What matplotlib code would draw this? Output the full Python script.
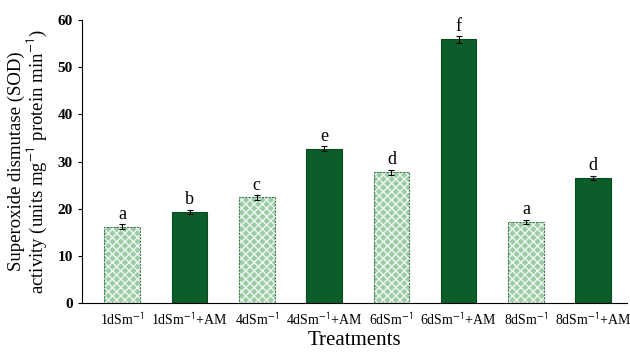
import matplotlib
matplotlib.use("Agg")
import matplotlib.pyplot as plt
import numpy as np

categories = ["1dSm$^{\\mathsf{-1}}$", "1dSm$^{\\mathsf{-1}}$+AM", "4dSm$^{\\mathsf{-1}}$", "4dSm$^{\\mathsf{-1}}$+AM",
              "6dSm$^{\\mathsf{-1}}$", "6dSm$^{\\mathsf{-1}}$+AM", "8dSm$^{\\mathsf{-1}}$", "8dSm$^{\\mathsf{-1}}$+AM"]
values = [16.2, 19.3, 22.4, 32.7, 27.7, 55.9, 17.2, 26.5]
errors = [0.5, 0.5, 0.5, 0.5, 0.6, 0.7, 0.5, 0.5]
letters = ["a", "b", "c", "e", "d", "f", "a", "d"]
with_am = [False, True, False, True, False, True, False, True]

plt.rcParams['font.family'] = ['Liberation Serif', 'DejaVu Serif']
plt.rcParams['mathtext.fontset'] = 'stix'
plt.rcParams['hatch.linewidth'] = 1.0

fig = plt.figure(figsize=(6.3, 3.52), dpi=100)
ax = fig.add_axes([0.130, 0.139, 0.865, 0.804])

x = np.arange(len(categories))
w = 0.53
dark = '#0b5e2a'
light = '#9ccca6'
for xi, v, am in zip(x, values, with_am):
    if am:
        ax.bar(xi, v, width=w, color=dark, edgecolor='#0a4a20', linewidth=0.8, zorder=2)
    else:
        ax.bar(xi, v, width=w, color=light, edgecolor='#eef7ef', hatch='xxxx', linewidth=0, zorder=2)
        ax.bar(xi, v, width=w, fill=False, edgecolor='#3f7a50', linewidth=0.8, linestyle=(0, (2, 1)), zorder=3)

ax.errorbar(x, values, yerr=errors, fmt='none', ecolor='black', elinewidth=0.8, capsize=2, capthick=0.8, zorder=4)
for xi, v, e, l in zip(x, values, errors, letters):
    ax.text(xi, v + e + 0.3, l, ha='center', va='bottom', fontsize=13)

ax.set_xlim(-0.6, 7.5)
ax.set_ylim(0, 60)
ax.set_yticks([0, 10, 20, 30, 40, 50, 60])
ax.set_xticks(x)
ax.set_xticklabels(categories, fontsize=10)
for t in ax.get_yticklabels():
    t.set_fontweight('bold')
    t.set_fontsize(11)
ax.tick_params(axis='x', length=0, pad=6)
ax.tick_params(axis='y', length=3, direction='out')
ax.spines['top'].set_visible(False)
ax.spines['right'].set_visible(False)
ax.set_xlabel("Treatments", fontsize=15, labelpad=2)
ax.set_ylabel("Superoxide dismutase (SOD)\nactivity (units mg$^{\\mathsf{-1}}$ protein min$^{\\mathsf{-1}}$)", fontsize=13.5, linespacing=1.0, labelpad=6)

fig.savefig("out.png", dpi=100)
